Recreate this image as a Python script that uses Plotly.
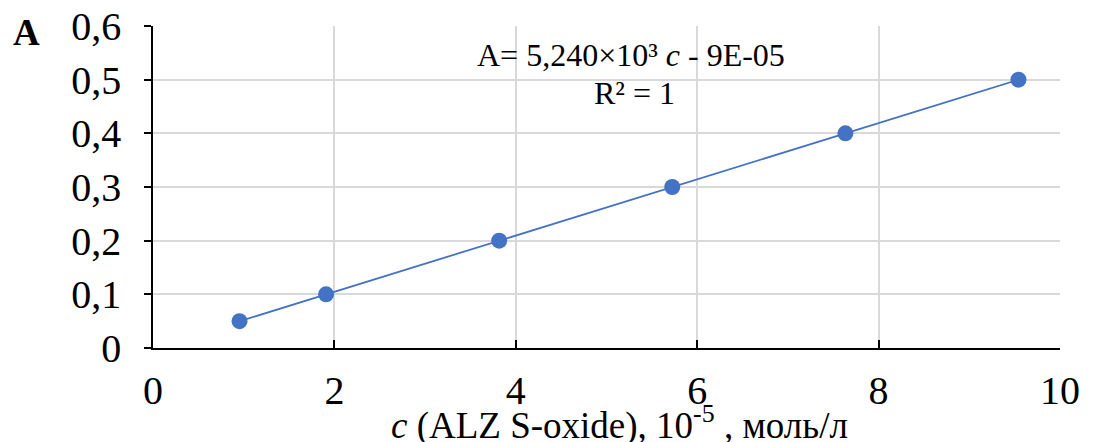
import plotly.graph_objects as go

conc = [0.954, 1.908, 3.817, 5.725, 7.634, 9.542]
absorb = [0.05, 0.10, 0.20, 0.30, 0.40, 0.50]
slope = 0.05240
intercept = -0.00009
x_ticks = [0, 2, 4, 6, 8, 10]
y_ticks = [0, 0.1, 0.2, 0.3, 0.4, 0.5, 0.6]

fit_x = [min(conc), max(conc)]
fit_y = [slope * v + intercept for v in fit_x]

FONT = "Liberation Serif"
BLUE = "#4472C4"

# page body has an 8px default margin; compensate so the plot sits where the reference does
OFF = 8
W, H = 1093, 442
l, r, t, b = 153 - OFF, W - (1060 - OFF), 26 - OFF, H - (348 - OFF)

fig = go.Figure()
fig.add_trace(go.Scatter(x=fit_x, y=fit_y, mode="lines",
                         line=dict(color=BLUE, width=1.8), hoverinfo="skip"))
fig.add_trace(go.Scatter(x=conc, y=absorb, mode="markers",
                         marker=dict(color=BLUE, size=16)))

fig.update_layout(
    width=W, height=H,
    margin=dict(l=l, r=r, t=t, b=b, autoexpand=False),
    paper_bgcolor="white", plot_bgcolor="white",
    showlegend=False,
    separators=", ",
    font=dict(family=FONT, color="black", size=30),
    xaxis=dict(range=[0, 10], tickvals=x_ticks, showgrid=True, gridcolor="#D9D9D9",
               gridwidth=1.5, zeroline=False, showline=True, linecolor="black", linewidth=1.5,
               ticks="inside", ticklen=8, tickwidth=1.5, tickcolor="black",
               tickfont=dict(size=40, family=FONT), ticklabelstandoff=6,
               ticklabeloverflow="allow", automargin=False),
    yaxis=dict(range=[0, 0.6], tickvals=y_ticks, showgrid=True, gridcolor="#D9D9D9",
               gridwidth=1.5, zeroline=False, showline=True, linecolor="black", linewidth=1.5,
               ticks="outside", ticklen=7, tickwidth=1.5, tickcolor="black",
               tickfont=dict(size=40, family=FONT), ticklabelstandoff=15,
               ticklabeloverflow="allow", automargin=False),
)

# annotations placed by screen pixel centres, converted to paper coordinates
notes = [
    ("<b>A</b>", 26, 33, 37),
    ("A= 5,240×10³ <i>c</i> - 9E-05", 631, 55, 32),
    ("R² = 1", 634, 93, 32),
    ("<i>c</i> (ALZ S-oxide), 10<sup>-5</sup> , моль/л", 619, 423, 37),
]
pw, ph = W - l - r, H - t - b
for text, sx, sy, size in notes:
    fig.add_annotation(text=text, xref="paper", yref="paper",
                       x=(sx - OFF - l) / pw, y=(H - b - (sy - OFF)) / ph,
                       xanchor="center", yanchor="middle", showarrow=False,
                       font=dict(size=size, family=FONT, color="black"))

fig.write_html("out.html")
